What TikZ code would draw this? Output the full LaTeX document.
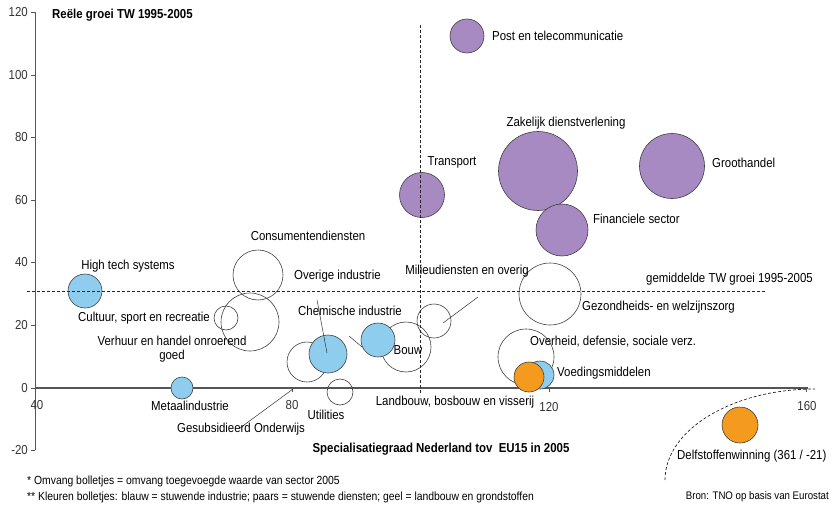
\documentclass[tikz,border=0pt]{standalone}
\usepackage{fontspec}
\setmainfont{Liberation Sans}[FakeStretch=0.88]
\definecolor{bblue}{HTML}{8FCDEE}
\definecolor{bpurple}{HTML}{A68AC1}
\definecolor{borange}{HTML}{F39A1F}
\definecolor{axisgray}{HTML}{555555}
\begin{document}
\begin{tikzpicture}[x=1pt,y=-1pt,
  lbl/.style={font=\fontsize{13}{15}\selectfont, inner sep=0pt},
  ttl/.style={font=\fontsize{13}{15}\selectfont\bfseries, inner sep=0pt},
  foot/.style={font=\fontsize{11.8}{13}\selectfont, inner sep=0pt, anchor=west},
  tick/.style={font=\fontsize{13}{15}\selectfont, inner sep=0pt, text=black!80},
  bub/.style={circle, draw=black!75, line width=0.6pt, inner sep=0pt, minimum size=#1},
  wb/.style={bub=#1},
  blb/.style={bub=#1, fill=bblue},
  pb/.style={bub=#1, fill=bpurple},
  ob/.style={bub=#1, fill=borange},
  guide/.style={dashed, dash pattern=on 3pt off 2pt, line width=0.6pt, black!85},
  leader/.style={line width=0.5pt, black!80},
  ax/.style={axisgray, line width=0.8pt}]
\useasboundingbox (0,0) rectangle (832,508);
\fill[white] (0,0) rectangle (832,508);

% axes
\coordinate (ytop) at (35,12);
\coordinate (ybot) at (35,450);
\coordinate (xl) at (35,388);
\coordinate (xr) at (808,388);
\draw[ax] (ytop) -- (ybot);
\draw[ax, line width=1.2pt] (xl) -- (xr);
\foreach \v/\yy in {120/12,100/75,80/137,60/200,40/262,20/325,0/388,-20/450}{
  \draw[ax] (31,\yy) -- (35,\yy);
  \node[tick, anchor=east] (yl\v) at (28,\yy) {\v};
}
\foreach \v/\xx in {40/35,80/292,120/549,160/806}{
  \draw[ax] (\xx,388) -- (\xx,392);
}
\node[tick] (xl40) at (37,405) {40};
\node[tick] (xl80) at (292,405) {80};
\node[tick] (xl120) at (549,407) {120};
\node[tick] (xl160) at (807,406) {160};

% white bubbles
\node[wb=50pt] (cons) at (258,275) {};
\node[wb=58pt] (verh) at (250,322) {};
\node[wb=24pt] (cult) at (226,318) {};
\node[wb=40pt] (gesub) at (307,362) {};
\node[wb=26pt] (util) at (340,392) {};
\node[wb=50pt] (bouw) at (406,347) {};
\node[wb=34pt] (milieu) at (434,321) {};
\node[wb=62pt] (gez) at (550,294) {};
\node[wb=56pt] (overh) at (526,357) {};

% blue bubbles
\node[blb=34pt] (hts) at (85,291) {};
\node[blb=22pt] (metaal) at (182,388) {};
\node[blb=38pt] (chem) at (328,354) {};
\node[blb=34pt] (blue2) at (378,340) {};
\node[blb=28pt] (voed) at (540,375) {};

% orange bubbles
\node[ob=30pt] (landb) at (529,377) {};
\node[ob=36pt] (delf) at (740,425) {};

% purple bubbles
\node[pb=45pt] (transp) at (422,195) {};
\node[pb=34pt] (post) at (467,36) {};
\node[pb=79pt] (zak) at (538,171) {};
\node[pb=65pt] (groot) at (672,166) {};
\node[pb=52pt] (fin) at (562,230) {};

% guide lines
\coordinate (hgl) at (27,291);
\coordinate (hgr) at (765,291);
\coordinate (vgt) at (420,25);
\coordinate (vgb) at (420,395);
\draw[guide] (hgl) -- (hgr);
\draw[guide] (vgt) -- (vgb);

% dashed curve to Delfstoffenwinning
\coordinate (cv1) at (665,480);
\coordinate (cv2) at (815,389);
\draw[guide, line width=0.7pt] (cv1) .. controls (665,430) and (732,389) .. (cv2);

% leader lines
\coordinate (gs1) at (240,428);
\coordinate (gs2) at (293,389);
\draw[leader] (gs1) -- (gs2);
\coordinate (ch1) at (317,300);
\coordinate (ch2) at (327,353);
\draw[leader] (ch1) -- (ch2);
\coordinate (sh1) at (349,336);
\coordinate (sh2) at (362,347);
\draw[leader] (sh1) -- (sh2);
\coordinate (mi1) at (478,297);
\coordinate (mi2) at (443,323);
\draw[leader] (mi1) -- (mi2);

% labels
\node[ttl, anchor=west] (title) at (52,15) {Reële groei TW 1995-2005};
\node[ttl] (xtitle) at (441,449) {Specialisatiegraad Nederland tov\ \ EU15 in 2005};
\node[lbl, anchor=west] (lpost) at (492,36) {Post en telecommunicatie};
\node[lbl] (lzak) at (566,123) {Zakelijk dienstverlening};
\node[lbl] (ltransp) at (452,162) {Transport};
\node[lbl, anchor=west] (lgroot) at (712,163) {Groothandel};
\node[lbl, anchor=west] (lfin) at (593,219) {Financiele sector};
\node[lbl] (lcons) at (308,236) {Consumentendiensten};
\node[lbl] (lhts) at (128,266) {High tech systems};
\node[lbl, anchor=west] (lover) at (294,276) {Overige industrie};
\node[lbl] (lmil) at (467,271) {Milieudiensten en overig};
\node[lbl, anchor=west] (lgem) at (646,279) {gemiddelde TW groei 1995-2005};
\node[lbl, anchor=west] (lgez) at (582,307) {Gezondheids- en welzijnszorg};
\node[lbl] (lchem) at (350,311) {Chemische industrie};
\node[lbl, anchor=east] (lcult) at (210,318) {Cultuur, sport en recreatie};
\node[lbl, align=center] (lverh) at (172,349) {Verhuur en handel onroerend\\[-1pt]goed};
\node[lbl] (lbouw) at (408,350) {Bouw};
\node[lbl, anchor=west] (loverh) at (530,342) {Overheid, defensie, sociale verz.};
\node[lbl, anchor=west] (lvoed) at (557,373) {Voedingsmiddelen};
\node[lbl] (lmet) at (190,406) {Metaalindustrie};
\node[lbl] (lutil) at (326,415) {Utilities};
\node[lbl] (llandb) at (455,402) {Landbouw, bosbouw en visserij};
\node[lbl] (lgesub) at (241,429) {Gesubsidieerd Onderwijs};
\node[lbl, anchor=west] (ldelf) at (677,456) {Delfstoffenwinning (361 / -21)};

% footnotes
\node[foot] (f1) at (27,481) {* Omvang bolletjes = omvang toegevoegde waarde van sector 2005};
\node[foot] (f2) at (27,497) {** Kleuren bolletjes: blauw = stuwende industrie; paars = stuwende diensten; geel = landbouw en grondstoffen};
\node[foot, anchor=east, font=\fontsize{11}{13}\selectfont] (bron) at (829,497) {Bron: TNO op basis van Eurostat};
\end{tikzpicture}
\end{document}
